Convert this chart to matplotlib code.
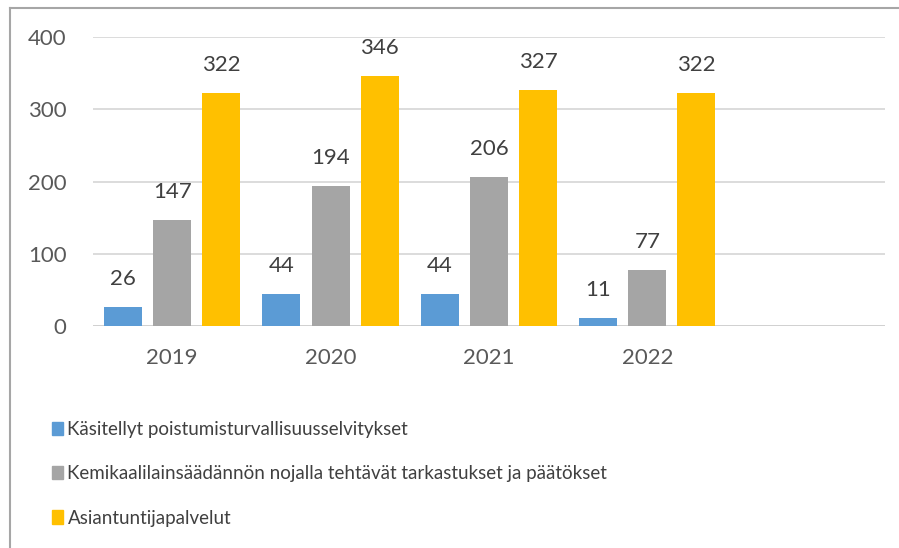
import numpy as np
import matplotlib.pyplot as plt
from matplotlib.lines import Line2D
from matplotlib.patches import Rectangle

years = ["2019", "2020", "2021", "2022", ""]
poistumis = [26, 44, 44, 11]
kemikaali = [147, 194, 206, 77]
asiantuntija = [322, 346, 327, 322]
series_names = ["Käsitellyt poistumisturvallisuusselvitykset",
                "Kemikaalilainsäädännön nojalla tehtävät tarkastukset ja päätökset",
                "Asiantuntijapalvelut"]
colors = ["#5B9BD5", "#A5A5A5", "#FFC000"]

plt.rcParams['font.family'] = ['Lato', 'DejaVu Sans']
text_col = "#595959"

fig = plt.figure(figsize=(8.99, 5.48), dpi=100)
ax = fig.add_axes([0.1034, 0.405, 0.881, 0.5275])

x = np.arange(len(poistumis))
w = 0.24
step = 0.31
for i, vals in enumerate([poistumis, kemikaali, asiantuntija]):
    pos = x + (i - 1) * step
    ax.bar(pos, vals, width=w, color=colors[i], zorder=3)
    for px, v in zip(pos, vals):
        ax.annotate(str(v), (px, v), xytext=(0, 13), textcoords="offset points",
                    ha="center", va="bottom", fontsize=16, color="#404040")

ax.set_xlim(-0.5, len(years) - 0.5)
ax.set_ylim(0, 400)
ax.set_yticks([0, 100, 200, 300, 400])
ax.set_xticks(np.arange(len(years)))
ax.set_xticklabels(years)
ax.tick_params(axis="y", length=0, pad=19, labelsize=16, labelcolor=text_col)
ax.tick_params(axis="x", length=0, pad=16, labelsize=16, labelcolor=text_col)
ax.grid(axis="y", color="#D9D9D9", linewidth=1.3, zorder=0)
for s in ax.spines.values():
    s.set_visible(False)
ax.axhline(0, color="#D0D0D0", linewidth=1.3, zorder=2)

# legend below the chart
handles = [Rectangle((0, 0), 1, 1, color=c) for c in colors]
leg = fig.legend(handles, series_names, loc="upper left", bbox_to_anchor=(0.05, 0.245),
                 frameon=False, fontsize=13.5, handlelength=0.55, handleheight=0.7,
                 handletextpad=0.25, labelspacing=1.45, borderaxespad=0)
for t in leg.get_texts():
    t.set_color("#404040")

# outer chart frame (cut at right and bottom)
fig.add_artist(Line2D([0.011, 1.0], [0.985, 0.985], color="#A6A6A6", linewidth=1.5))
fig.add_artist(Line2D([0.011, 0.011], [0.0, 0.985], color="#A6A6A6", linewidth=1.5))

fig.savefig("out.png", dpi=100)
